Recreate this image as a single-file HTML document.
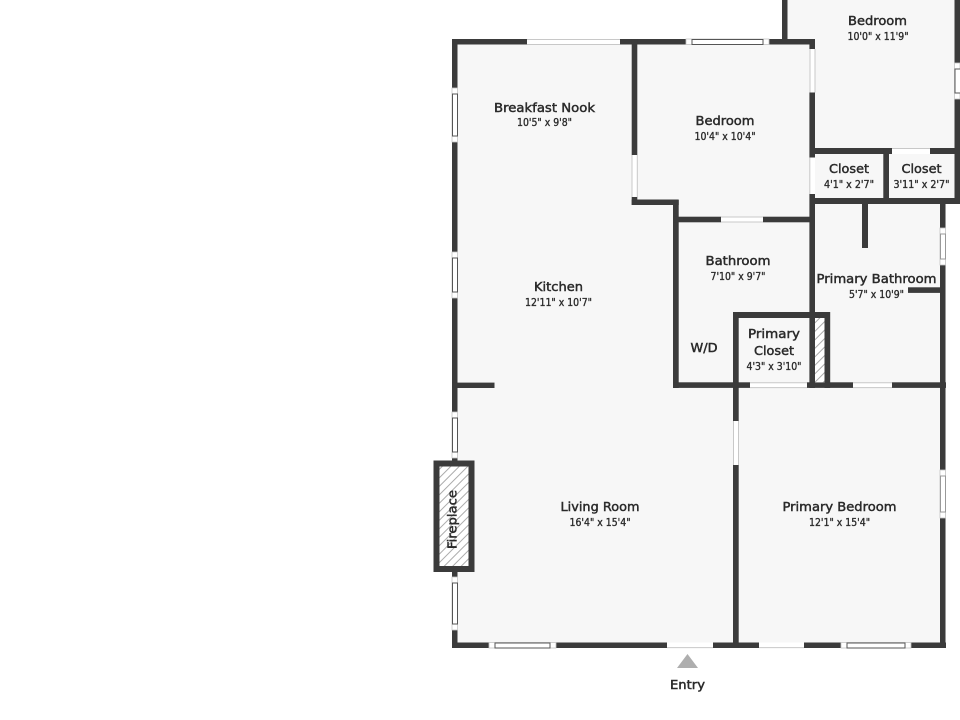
<!DOCTYPE html>
<html><head><meta charset="utf-8"><style>
html,body{margin:0;padding:0;background:#fff}
svg{display:block}
text{font-family:"DejaVu Sans","Liberation Sans",sans-serif;fill:#2a2a2a;text-anchor:middle;stroke:#2a2a2a;stroke-width:.45}
.n{font-size:12.5px}
.s{font-size:10.5px;stroke-width:.35}
.w{fill:#3b3b3b}
.d{fill:#fff}
.c{fill:#fff;stroke:#c4c4c4;stroke-width:.8}
.e{stroke:#c8c8c8;stroke-width:1;fill:none}
.g{fill:#fff;stroke:#555;stroke-width:1}
</style></head><body>
<svg width="960" height="720" viewBox="0 0 960 720" xmlns="http://www.w3.org/2000/svg">
<defs><pattern id="h" width="6" height="6" patternUnits="userSpaceOnUse" patternTransform="rotate(45)"><rect width="6" height="6" fill="#fff"/><rect width="1" height="6" fill="#aaa"/></pattern></defs>
<polygon points="452,39 782,39 782,0 960,0 960,204 946,204 946,648 452,648" fill="#f7f7f7"/>

<!-- outer walls -->
<rect class="w" x="452" y="39" width="75" height="5.5"/>
<rect class="w" x="620" y="39" width="66" height="5.5"/>
<rect class="w" x="769" y="39" width="46" height="5.5"/>
<rect class="w" x="452" y="39" width="5.5" height="49"/>
<rect class="w" x="452" y="142" width="5.5" height="110"/>
<rect class="w" x="452" y="298" width="5.5" height="114"/>
<rect class="w" x="452" y="458" width="5.5" height="4"/>
<rect class="w" x="452" y="571" width="5.5" height="6"/>
<rect class="w" x="452" y="630" width="5.5" height="18"/>
<rect class="w" x="452" y="642.5" width="37" height="5.5"/>
<rect class="w" x="556" y="642.5" width="111" height="5.5"/>
<rect class="w" x="713" y="642.5" width="46" height="5.5"/>
<rect class="w" x="804" y="642.5" width="37" height="5.5"/>
<rect class="w" x="911" y="642.5" width="35" height="5.5"/>
<rect class="w" x="940" y="204" width="5.5" height="24"/>
<rect class="w" x="940" y="265" width="5.5" height="205"/>
<rect class="w" x="940" y="518" width="5.5" height="130"/>
<rect class="w" x="782" y="0" width="5.5" height="40"/>
<rect class="w" x="954.5" y="0" width="5.5" height="63"/>
<rect class="w" x="954.5" y="99" width="5.5" height="105"/>

<!-- interior walls -->
<rect class="w" x="631.7" y="39" width="5.6" height="116"/>
<rect class="w" x="631.7" y="197" width="5.6" height="8"/>
<rect class="w" x="631.7" y="199.5" width="47" height="5.5"/>
<rect class="w" x="673" y="200" width="5.7" height="188"/>
<rect class="w" x="673" y="216.7" width="48" height="5.6"/>
<rect class="w" x="763" y="216.7" width="52" height="5.6"/>
<rect class="w" x="809.4" y="39" width="5.6" height="10"/>
<rect class="w" x="809.4" y="92.5" width="5.6" height="65"/>
<rect class="w" x="809.4" y="194" width="5.6" height="194"/>
<rect class="w" x="810" y="148" width="82" height="6"/>
<rect class="w" x="930" y="148" width="30" height="6"/>
<rect class="w" x="883.3" y="148" width="5.7" height="55"/>
<rect class="w" x="810" y="198" width="150" height="6"/>
<rect class="w" x="862" y="204" width="6" height="44"/>
<rect class="w" x="908" y="287.3" width="33" height="5.6"/>
<rect class="w" x="733" y="312" width="97" height="6"/>
<rect class="w" x="733" y="312" width="5.7" height="109"/>
<rect class="w" x="733" y="465" width="5.7" height="183"/>
<rect class="w" x="824.5" y="312" width="5.7" height="76"/>
<rect class="w" x="673" y="382.3" width="77" height="5.6"/>
<rect class="w" x="807" y="382.3" width="46" height="5.6"/>
<rect class="w" x="892" y="382.3" width="54" height="5.6"/>
<rect class="w" x="452" y="382.6" width="42.5" height="5.4"/>
<rect x="815" y="318" width="9.5" height="64.3" fill="url(#h)"/>

<!-- doors -->
<rect class="d" x="527" y="39" width="93" height="5.5"/><path class="e" d="M527 39.5H620M527 44.5H620"/>
<rect class="d" x="632" y="155" width="5.3" height="42"/><path class="e" d="M632 155V197M637.3 155V197"/>
<rect class="d" x="721" y="217" width="42" height="5.3"/><path class="e" d="M721 217H763M721 222H763"/>
<rect class="d" x="809.5" y="49" width="5.5" height="43.5"/><path class="e" d="M810 49V92.5M815 49V92.5"/>
<rect class="d" x="809.5" y="157.5" width="5.5" height="36.5"/><path class="e" d="M809.8 157.5V194"/>
<rect class="d" x="892" y="148" width="38" height="6"/><path class="e" d="M892 148.5H930"/>
<rect class="d" x="750" y="382.3" width="57" height="5.6"/><path class="e" d="M750 382.8H807M750 387.6H807"/>
<rect class="d" x="853" y="382.3" width="39" height="5.6"/><path class="e" d="M853 382.8H892M853 387.6H892"/>
<rect class="d" x="733.3" y="421" width="5.3" height="44"/><path class="e" d="M733.5 421V465M738.5 421V465"/>
<rect class="d" x="667" y="642.5" width="46" height="5.5"/><path class="e" d="M667 647.6H713"/>
<rect class="d" x="759" y="642.5" width="45" height="5.5"/><path class="e" d="M759 647.6H804"/>

<!-- windows -->
<rect class="c" x="686" y="39" width="83" height="5.5"/><rect class="g" x="692" y="39.5" width="71" height="5"/>
<rect class="c" x="452" y="88" width="5.5" height="54"/><rect class="g" x="452.5" y="94" width="5" height="42"/>
<rect class="c" x="452" y="252" width="5.5" height="46"/><rect class="g" x="452.5" y="258" width="5" height="34"/>
<rect class="c" x="452" y="412" width="5.5" height="46"/><rect class="g" x="452.5" y="418" width="5" height="34"/>
<rect class="c" x="452" y="577" width="5.5" height="53"/><rect class="g" x="452.5" y="583" width="5" height="41"/>
<rect class="c" x="489" y="642.5" width="67" height="5.5"/><rect class="g" x="495" y="643" width="55" height="5"/>
<rect class="c" x="841" y="642.5" width="70" height="5.5"/><rect class="g" x="847" y="643" width="58" height="5"/>
<rect class="c" x="940" y="228" width="5.5" height="37"/><rect class="g" x="940.5" y="234" width="5" height="25" style="stroke:#999"/>
<rect class="c" x="940" y="470" width="5.5" height="48"/><rect class="g" x="940.5" y="476" width="5" height="36" style="stroke:#999"/>
<rect class="c" x="954.5" y="63" width="5.5" height="36"/><rect class="g" x="955" y="69" width="6" height="24"/>

<!-- fireplace -->
<rect x="436.5" y="463.5" width="35" height="105.5" fill="url(#h)" stroke="#3b3b3b" stroke-width="6"/>

<!-- entry -->
<polygon points="687.5,654 698,668 677,668" fill="#aeaeae"/>

<!-- labels -->
<text class="n" x="544.5" y="112" textLength="101" lengthAdjust="spacingAndGlyphs">Breakfast Nook</text>
<text class="s" x="544.5" y="126" textLength="55" lengthAdjust="spacingAndGlyphs">10'5" x 9'8"</text>
<text class="n" x="725" y="125" textLength="59" lengthAdjust="spacingAndGlyphs">Bedroom</text>
<text class="s" x="725" y="140" textLength="61" lengthAdjust="spacingAndGlyphs">10'4" x 10'4"</text>
<text class="n" x="877.5" y="25" textLength="59" lengthAdjust="spacingAndGlyphs">Bedroom</text>
<text class="s" x="878" y="40" textLength="61" lengthAdjust="spacingAndGlyphs">10'0" x 11'9"</text>
<text class="n" x="849" y="173" textLength="40" lengthAdjust="spacingAndGlyphs">Closet</text>
<text class="s" x="849" y="188" textLength="50" lengthAdjust="spacingAndGlyphs">4'1" x 2'7"</text>
<text class="n" x="921.5" y="173" textLength="40" lengthAdjust="spacingAndGlyphs">Closet</text>
<text class="s" x="921.5" y="188" textLength="56" lengthAdjust="spacingAndGlyphs">3'11" x 2'7"</text>
<text class="n" x="738" y="265" textLength="65" lengthAdjust="spacingAndGlyphs">Bathroom</text>
<text class="s" x="738" y="280" textLength="55" lengthAdjust="spacingAndGlyphs">7'10" x 9'7"</text>
<text class="n" x="876.5" y="283" textLength="120" lengthAdjust="spacingAndGlyphs">Primary Bathroom</text>
<text class="s" x="876.5" y="298" textLength="55" lengthAdjust="spacingAndGlyphs">5'7" x 10'9"</text>
<text class="n" x="704" y="352" textLength="27" lengthAdjust="spacingAndGlyphs">W/D</text>
<text class="n" x="774" y="338" textLength="52" lengthAdjust="spacingAndGlyphs">Primary</text>
<text class="n" x="774" y="355" textLength="40" lengthAdjust="spacingAndGlyphs">Closet</text>
<text class="s" x="774" y="370" textLength="55" lengthAdjust="spacingAndGlyphs">4'3" x 3'10"</text>
<text class="n" x="558.5" y="291" textLength="49" lengthAdjust="spacingAndGlyphs">Kitchen</text>
<text class="s" x="558.5" y="306" textLength="67" lengthAdjust="spacingAndGlyphs">12'11" x 10'7"</text>
<text class="n" x="600" y="511" textLength="79" lengthAdjust="spacingAndGlyphs">Living Room</text>
<text class="s" x="600" y="526" textLength="61" lengthAdjust="spacingAndGlyphs">16'4" x 15'4"</text>
<text class="n" x="839.5" y="511" textLength="114" lengthAdjust="spacingAndGlyphs">Primary Bedroom</text>
<text class="s" x="839.5" y="526" textLength="61" lengthAdjust="spacingAndGlyphs">12'1" x 15'4"</text>
<text class="n" x="687.5" y="689" textLength="35" lengthAdjust="spacingAndGlyphs">Entry</text>
<text class="n" transform="translate(456.5 519.5) rotate(-90)" x="0" y="0" textLength="59" lengthAdjust="spacingAndGlyphs">Fireplace</text>
</svg>
</body></html>
